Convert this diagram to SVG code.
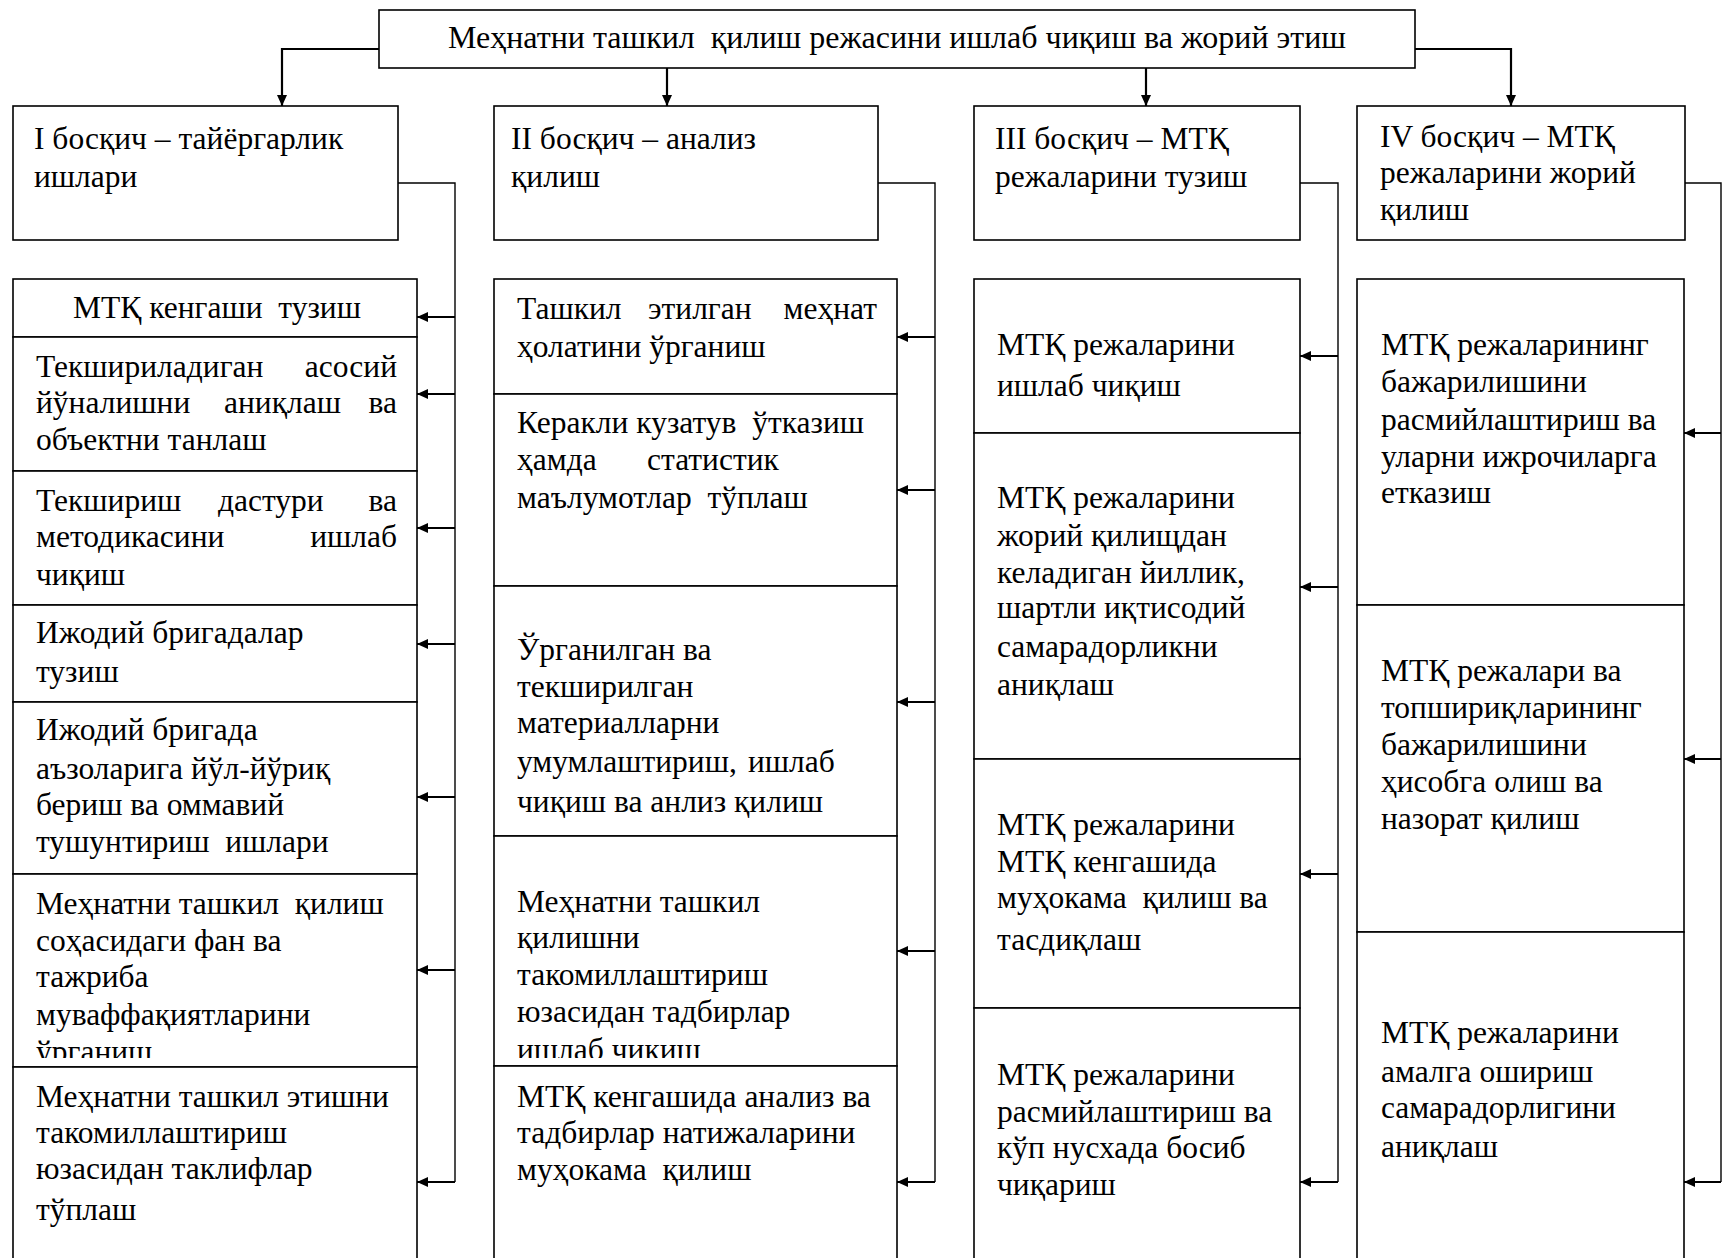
<svg xmlns="http://www.w3.org/2000/svg" width="1722" height="1258" viewBox="0 0 1722 1258">
<style>
  .box{fill:#fff;stroke:#000;stroke-width:1.6}
  .t{font-family:"Liberation Serif","Times New Roman",serif;font-size:31.5px;fill:#000;white-space:pre}
  .c{text-anchor:middle}
  .e{text-anchor:end}
  .arr{fill:none;stroke:#000;stroke-width:2.2;marker-end:url(#ah)}
  .side{fill:none;stroke:#000;stroke-width:1.4}
</style>
<defs>
  <marker id="ah" markerUnits="userSpaceOnUse" markerWidth="12" markerHeight="10" refX="11" refY="5" orient="auto">
    <path d="M0,0 L11,5 L0,10 z" fill="#000"/>
  </marker>
  <clipPath id="clipI6"><rect x="13" y="874" width="404" height="184"/></clipPath>
  <clipPath id="clipII4"><rect x="494" y="836" width="403" height="222"/></clipPath>
</defs>
<rect width="1722" height="1258" fill="#fff"/>

<g id="connectors">
  <path class="arr" d="M379,49 H282 V106"/>
  <path class="arr" d="M667,68 V106"/>
  <path class="arr" d="M1146,68 V106"/>
  <path class="arr" d="M1415,49 H1511 V106"/>
  <path class="side" d="M398,183 H455 V1182"/>
  <path class="side" d="M878,183 H935 V1182"/>
  <path class="side" d="M1300,183 H1338 V1182"/>
  <path class="side" d="M1685,183 H1721 V1182"/>
  <path class="arr" d="M455,317 H417"/>
  <path class="arr" d="M455,394 H417"/>
  <path class="arr" d="M455,528 H417"/>
  <path class="arr" d="M455,644 H417"/>
  <path class="arr" d="M455,797 H417"/>
  <path class="arr" d="M455,970 H417"/>
  <path class="arr" d="M455,1182 H417"/>
  <path class="arr" d="M935,337 H897"/>
  <path class="arr" d="M935,490 H897"/>
  <path class="arr" d="M935,702 H897"/>
  <path class="arr" d="M935,951 H897"/>
  <path class="arr" d="M935,1182 H897"/>
  <path class="arr" d="M1338,356 H1300"/>
  <path class="arr" d="M1338,587 H1300"/>
  <path class="arr" d="M1338,874 H1300"/>
  <path class="arr" d="M1338,1182 H1300"/>
  <path class="arr" d="M1721,433 H1684"/>
  <path class="arr" d="M1721,759 H1684"/>
  <path class="arr" d="M1721,1182 H1684"/>
</g>

<g id="top">
  <rect class="box" x="379" y="10" width="1036" height="58"/>
  <text class="t c" x="897" y="48" style="font-size:32px">Меҳнатни ташкил  қилиш режасини ишлаб чиқиш ва жорий этиш</text>
</g>

<g id="stage1">
  <rect class="box" x="13" y="106" width="385" height="134"/>
  <text class="t" x="34" y="149">I босқич – тайёргарлик</text>
  <text class="t" x="34" y="187">ишлари</text>
</g>
<g id="stage2">
  <rect class="box" x="494" y="106" width="384" height="134"/>
  <text class="t" x="511" y="149">II босқич – анализ</text>
  <text class="t" x="511" y="187">қилиш</text>
</g>
<g id="stage3">
  <rect class="box" x="974" y="106" width="326" height="134"/>
  <text class="t" x="995" y="149">III босқич – МТҚ</text>
  <text class="t" x="995" y="187">режаларини тузиш</text>
</g>
<g id="stage4">
  <rect class="box" x="1357" y="106" width="328" height="134"/>
  <text class="t" x="1380" y="147">IV босқич – МТҚ</text>
  <text class="t" x="1380" y="183">режаларини жорий</text>
  <text class="t" x="1380" y="220">қилиш</text>
</g>

<!-- Column I -->
<g id="I1">
  <rect class="box" x="13" y="279" width="404" height="58"/>
  <text class="t c" x="217" y="318">МТҚ кенгаши  тузиш</text>
</g>
<g id="I2">
  <rect class="box" x="13" y="337" width="404" height="134"/>
  <text class="t" y="377"><tspan x="36">Текшириладиган</tspan><tspan class="e" x="397">асосий</tspan></text>
  <text class="t" y="413"><tspan x="36">йўналишни</tspan><tspan x="224">аниқлаш</tspan><tspan class="e" x="397">ва</tspan></text>
  <text class="t" x="36" y="450">объектни танлаш</text>
</g>
<g id="I3">
  <rect class="box" x="13" y="471" width="404" height="134"/>
  <text class="t" y="511"><tspan x="36">Текшириш</tspan><tspan x="218">дастури</tspan><tspan class="e" x="397">ва</tspan></text>
  <text class="t" y="547"><tspan x="36">методикасини</tspan><tspan class="e" x="397">ишлаб</tspan></text>
  <text class="t" x="36" y="585">чиқиш</text>
</g>
<g id="I4">
  <rect class="box" x="13" y="605" width="404" height="97"/>
  <text class="t" x="36" y="643">Ижодий бригадалар</text>
  <text class="t" x="36" y="682">тузиш</text>
</g>
<g id="I5">
  <rect class="box" x="13" y="702" width="404" height="172"/>
  <text class="t" x="36" y="740">Ижодий бригада</text>
  <text class="t" x="36" y="779">аъзоларига йўл-йўриқ</text>
  <text class="t" x="36" y="815">бериш ва оммавий</text>
  <text class="t" x="36" y="852">тушунтириш  ишлари</text>
</g>
<g id="I6">
  <rect class="box" x="13" y="874" width="404" height="193"/>
  <g clip-path="url(#clipI6)">
    <text class="t" x="36" y="914">Меҳнатни ташкил  қилиш</text>
    <text class="t" x="36" y="951">соҳасидаги фан ва</text>
    <text class="t" x="36" y="987">тажриба</text>
    <text class="t" x="36" y="1025">муваффақиятларини</text>
    <text class="t" x="36" y="1062">ўрганиш</text>
  </g>
</g>
<g id="I7">
  <rect class="box" x="13" y="1067" width="404" height="200"/>
  <text class="t" x="36" y="1107">Меҳнатни ташкил этишни</text>
  <text class="t" x="36" y="1143">такомиллаштириш</text>
  <text class="t" x="36" y="1179">юзасидан таклифлар</text>
  <text class="t" x="36" y="1220">тўплаш</text>
</g>

<!-- Column II -->
<g id="II1">
  <rect class="box" x="494" y="279" width="403" height="115"/>
  <text class="t" y="319"><tspan x="517">Ташкил</tspan><tspan x="648">этилган</tspan><tspan class="e" x="877">меҳнат</tspan></text>
  <text class="t" x="517" y="357">ҳолатини ўрганиш</text>
</g>
<g id="II2">
  <rect class="box" x="494" y="394" width="403" height="192"/>
  <text class="t" x="517" y="433">Керакли кузатув  ўтказиш</text>
  <text class="t" y="470"><tspan x="517">ҳамда</tspan><tspan x="647">статистик</tspan></text>
  <text class="t" x="517" y="508">маълумотлар  тўплаш</text>
</g>
<g id="II3">
  <rect class="box" x="494" y="586" width="403" height="250"/>
  <text class="t" x="517" y="660">Ўрганилган ва</text>
  <text class="t" x="517" y="697">текширилган</text>
  <text class="t" x="517" y="733">материалларни</text>
  <text class="t" y="772"><tspan x="517">умумлаштириш,</tspan><tspan x="748">ишлаб</tspan></text>
  <text class="t" x="517" y="812">чиқиш ва анлиз қилиш</text>
</g>
<g id="II4">
  <rect class="box" x="494" y="836" width="403" height="230"/>
  <g clip-path="url(#clipII4)">
    <text class="t" x="517" y="912">Меҳнатни ташкил</text>
    <text class="t" x="517" y="948">қилишни</text>
    <text class="t" x="517" y="985">такомиллаштириш</text>
    <text class="t" x="517" y="1022">юзасидан тадбирлар</text>
    <text class="t" x="517" y="1060">ишлаб чиқиш</text>
  </g>
</g>
<g id="II5">
  <rect class="box" x="494" y="1066" width="403" height="200"/>
  <text class="t" x="517" y="1107">МТҚ кенгашида анализ ва</text>
  <text class="t" x="517" y="1143">тадбирлар натижаларини</text>
  <text class="t" x="517" y="1180">муҳокама  қилиш</text>
</g>

<!-- Column III -->
<g id="III1">
  <rect class="box" x="974" y="279" width="326" height="154"/>
  <text class="t" x="997" y="355">МТҚ режаларини</text>
  <text class="t" x="997" y="396">ишлаб чиқиш</text>
</g>
<g id="III2">
  <rect class="box" x="974" y="433" width="326" height="326"/>
  <text class="t" x="997" y="508">МТҚ режаларини</text>
  <text class="t" x="997" y="546">жорий қилищдан</text>
  <text class="t" x="997" y="583">келадиган йиллик,</text>
  <text class="t" x="997" y="618">шартли иқтисодий</text>
  <text class="t" x="997" y="657">самарадорликни</text>
  <text class="t" x="997" y="695">аниқлаш</text>
</g>
<g id="III3">
  <rect class="box" x="974" y="759" width="326" height="249"/>
  <text class="t" x="997" y="835">МТҚ режаларини</text>
  <text class="t" x="997" y="872">МТҚ кенгашида</text>
  <text class="t" x="997" y="908">муҳокама  қилиш ва</text>
  <text class="t" x="997" y="950">тасдиқлаш</text>
</g>
<g id="III4">
  <rect class="box" x="974" y="1008" width="326" height="260"/>
  <text class="t" x="997" y="1085">МТҚ режаларини</text>
  <text class="t" x="997" y="1122">расмийлаштириш ва</text>
  <text class="t" x="997" y="1158">кўп нусхада босиб</text>
  <text class="t" x="997" y="1195">чиқариш</text>
</g>

<!-- Column IV -->
<g id="IV1">
  <rect class="box" x="1357" y="279" width="327" height="326"/>
  <text class="t" x="1381" y="355">МТҚ режаларининг</text>
  <text class="t" x="1381" y="392">бажарилишини</text>
  <text class="t" x="1381" y="430">расмийлаштириш ва</text>
  <text class="t" x="1381" y="467">уларни ижрочиларга</text>
  <text class="t" x="1381" y="503">етказиш</text>
</g>
<g id="IV2">
  <rect class="box" x="1357" y="605" width="327" height="327"/>
  <text class="t" x="1381" y="681">МТҚ режалари ва</text>
  <text class="t" x="1381" y="718">топшириқларининг</text>
  <text class="t" x="1381" y="755">бажарилишини</text>
  <text class="t" x="1381" y="792">ҳисобга олиш ва</text>
  <text class="t" x="1381" y="829">назорат қилиш</text>
</g>
<g id="IV3">
  <rect class="box" x="1357" y="932" width="327" height="336"/>
  <text class="t" x="1381" y="1043">МТҚ режаларини</text>
  <text class="t" x="1381" y="1082">амалга ошириш</text>
  <text class="t" x="1381" y="1118">самарадорлигини</text>
  <text class="t" x="1381" y="1157">аниқлаш</text>
</g>
</svg>
